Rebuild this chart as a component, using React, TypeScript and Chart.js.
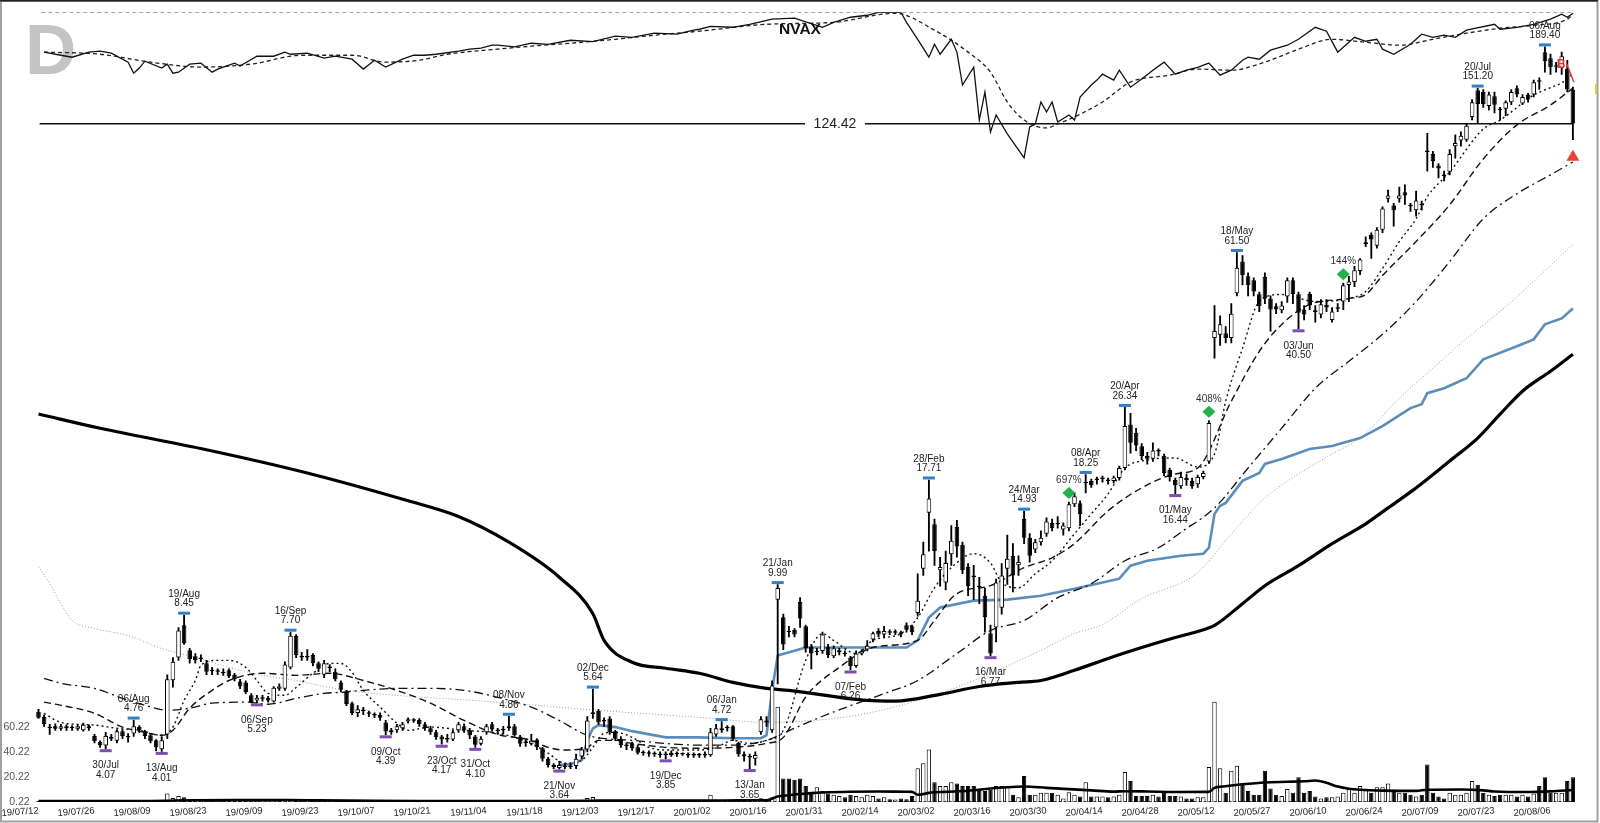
import React, { useEffect, useRef } from "react";
import { Chart, registerables } from "chart.js";
Chart.register(...registerables);

const FONT = '"Liberation Sans", Arial, Helvetica, sans-serif';

const tickLabels = ["19/07/12","19/07/26","19/08/09","19/08/23","19/09/09","19/09/23","19/10/07","19/10/21","19/11/04","19/11/18","19/12/03","19/12/17","20/01/02","20/01/16","20/01/31","20/02/14","20/03/02","20/03/16","20/03/30","20/04/14","20/04/28","20/05/12","20/05/27","20/06/10","20/06/24","20/07/09","20/07/23","20/08/06"];

const opens = [
4.98,4.85,4.56,4.60,4.54,4.60,4.55,4.54,4.50,4.60,
4.36,4.22,4.14,4.34,4.25,4.48,4.35,4.42,4.58,4.48,
4.38,4.26,4.06,4.40,5.92,6.70,8.00,6.97,6.75,6.65,
6.50,6.25,6.20,6.18,6.25,6.10,5.88,5.85,5.45,5.30,
5.35,5.38,5.27,5.65,5.65,6.35,7.55,6.75,6.70,6.80,
6.50,6.10,6.35,6.20,5.85,5.55,5.22,4.95,5.00,4.95,
4.92,4.90,4.70,4.45,4.50,4.55,4.72,4.78,4.76,4.65,
4.55,4.45,4.35,4.28,4.28,4.50,4.60,4.50,4.35,4.18,
4.45,4.65,4.52,4.50,4.60,4.60,4.35,4.20,4.18,4.28,
4.08,3.85,3.72,3.66,3.70,3.68,3.70,3.90,4.05,4.92,
5.00,4.72,4.80,4.48,4.30,4.15,4.18,4.10,3.98,3.96,
3.95,3.95,3.93,3.98,3.95,3.95,3.94,3.92,3.94,3.92,
3.93,4.40,4.50,4.55,4.60,4.20,3.95,3.90,3.85,4.45,
4.75,4.50,9.20,8.35,7.75,7.80,9.10,7.95,7.10,6.90,
6.95,7.10,6.75,6.90,6.85,6.70,6.40,6.85,7.00,7.40,
7.75,7.60,7.70,7.68,7.70,8.00,7.95,8.55,10.90,14.80,
13.90,10.80,10.10,11.80,13.70,12.40,11.00,10.50,9.90,9.40,
7.65,7.90,8.80,10.90,11.70,11.10,14.30,12.90,12.10,12.60,
13.20,14.00,13.90,13.50,13.60,15.50,15.60,17.40,17.60,17.70,
17.80,17.70,17.60,17.90,18.90,24.00,22.90,21.30,20.20,19.90,
20.80,20.20,18.70,17.70,17.10,17.90,17.60,17.30,18.00,19.60,
38.50,39.20,39.50,38.50,49.20,58.50,54.00,52.80,48.90,53.80,
47.80,45.80,44.80,48.30,52.80,48.90,45.00,49.00,44.80,43.80,
46.20,42.50,45.20,47.00,51.50,52.30,55.60,64.30,67.80,63.80,
69.60,82.50,79.50,82.50,85.50,79.60,77.50,80.00,107.5,105.4,
99.0,94.0,95.6,110.0,113.5,114.0,129.0,149.5,148.0,137.0,
144.5,134.5,135.0,140.0,151.0,139.0,146.0,146.0,157.0,184.0,
178.0,170.0,169.0,168.0,150.0];

const highs = [
5.05,4.90,4.65,4.66,4.65,4.64,4.62,4.64,4.68,4.64,
4.40,4.25,4.45,4.40,4.52,4.52,4.42,4.76,4.62,4.50,
4.40,4.28,4.35,6.10,6.70,7.90,8.45,7.05,6.85,6.80,
6.60,6.35,6.30,6.30,6.30,6.15,5.95,5.90,5.50,5.45,
5.45,5.42,5.72,5.80,6.55,7.70,7.60,6.90,7.00,6.85,
6.55,6.60,6.45,6.30,5.90,5.60,5.25,5.15,5.10,5.00,
4.95,4.95,4.75,4.55,4.65,4.70,4.82,4.80,4.80,4.70,
4.60,4.50,4.38,4.40,4.50,4.70,4.66,4.55,4.38,4.35,
4.65,4.70,4.55,4.60,4.86,4.65,4.38,4.28,4.40,4.30,
4.10,3.88,3.75,3.80,3.75,3.75,3.95,4.10,4.85,5.64,
5.05,4.82,4.85,4.50,4.35,4.20,4.22,4.15,4.02,4.02,
4.00,4.00,4.00,4.02,4.00,3.98,3.98,3.98,3.97,4.00,
4.55,4.65,4.72,4.62,4.62,4.22,4.00,3.95,4.00,4.85,
4.85,5.90,9.99,8.50,7.95,7.85,9.30,8.00,7.20,7.05,
7.70,7.20,7.15,7.05,6.95,6.75,6.95,7.00,7.35,7.70,
7.85,7.95,7.80,7.80,7.75,8.10,8.00,10.60,12.60,17.71,
14.30,11.60,12.00,13.80,14.20,12.60,11.20,11.10,10.40,9.80,
8.00,10.30,11.20,13.10,12.50,11.70,14.93,13.20,12.80,13.40,
14.40,14.30,14.50,14.00,15.70,16.50,15.80,18.25,17.80,18.00,
18.10,17.90,18.10,19.10,26.34,25.50,23.50,21.60,20.60,21.70,
21.00,20.40,18.90,17.90,18.50,18.30,17.90,18.20,18.60,24.50,
46.00,43.50,41.00,46.50,61.50,60.50,55.00,53.50,49.50,55.00,
48.50,46.50,47.00,53.50,53.50,49.50,46.00,49.50,46.00,47.50,
47.50,45.50,46.50,52.00,54.00,57.00,59.50,67.00,68.50,70.50,
79.00,86.50,80.50,88.00,89.00,80.50,86.00,81.50,118.0,107.0,
100.0,96.0,108.0,117.0,119.0,124.5,142.0,151.2,150.0,148.0,
148.0,136.0,141.0,150.0,153.0,146.0,147.0,158.0,160.0,189.4,
182.0,174.0,184.0,176.0,152.0];

const lows = [
4.80,4.60,4.40,4.50,4.50,4.50,4.50,4.50,4.48,4.50,
4.20,4.10,4.07,4.25,4.20,4.30,4.22,4.35,4.45,4.30,
4.20,4.02,4.01,4.30,5.70,6.60,7.20,6.50,6.50,6.55,
6.10,6.10,6.10,6.08,6.00,5.90,5.65,5.50,5.23,5.23,
5.28,5.25,5.25,5.60,5.60,6.30,6.70,6.60,6.60,6.40,
6.20,6.00,6.20,5.90,5.55,5.15,4.90,4.85,4.90,4.85,
4.82,4.75,4.39,4.40,4.45,4.50,4.68,4.70,4.60,4.50,
4.40,4.28,4.17,4.22,4.25,4.45,4.45,4.30,4.10,4.15,
4.40,4.48,4.40,4.42,4.50,4.35,4.12,4.12,4.15,4.05,
3.80,3.68,3.65,3.64,3.65,3.65,3.65,3.85,4.00,4.80,
4.65,4.60,4.40,4.25,4.10,4.05,4.03,3.95,3.92,3.90,
3.90,3.88,3.85,3.90,3.90,3.92,3.88,3.88,3.88,3.88,
3.90,4.35,4.45,4.48,4.25,3.90,3.80,3.65,3.72,4.40,
4.60,4.45,5.80,7.00,7.50,7.50,7.90,6.90,6.30,6.80,
6.85,6.70,6.70,6.80,6.75,6.26,6.35,6.80,6.95,7.30,
7.50,7.50,7.60,7.60,7.50,7.70,7.60,8.40,10.50,12.00,
11.10,9.90,9.70,11.10,11.60,10.60,9.40,9.20,9.00,7.70,
6.77,7.30,8.50,10.00,9.60,10.50,12.50,11.30,11.90,12.40,
13.00,13.40,13.60,13.10,13.40,15.30,13.80,16.50,17.00,17.30,
17.50,17.30,17.40,17.70,18.70,20.50,20.80,19.80,19.30,19.60,
20.20,18.10,17.60,16.44,16.90,17.20,16.90,17.00,17.80,19.40,
34.50,37.00,37.50,37.50,48.50,51.50,48.50,48.50,44.50,46.50,
40.00,44.00,44.20,46.80,46.50,40.50,42.50,45.00,42.00,43.00,
44.50,42.00,44.50,45.00,47.00,51.00,54.50,63.50,59.50,63.00,
68.50,81.00,71.00,81.00,80.00,77.00,75.00,77.50,96.0,98.0,
92.5,91.0,94.0,103.0,110.0,113.0,127.0,124.5,136.0,134.0,
132.0,127.0,130.0,138.0,144.0,138.0,140.0,144.0,150.0,165.0,
163.0,165.0,163.0,148.0,114.0];

const closes = [
4.82,4.65,4.55,4.54,4.60,4.55,4.57,4.60,4.64,4.55,
4.24,4.15,4.36,4.30,4.48,4.36,4.33,4.60,4.50,4.36,
4.24,4.10,4.26,5.95,6.55,7.77,7.25,6.65,6.60,6.68,
6.20,6.22,6.20,6.15,6.05,5.95,5.72,5.55,5.25,5.38,
5.36,5.30,5.68,5.72,6.45,7.55,6.80,6.70,6.72,6.50,
6.30,6.50,6.33,5.95,5.62,5.20,4.95,5.05,5.00,4.93,
4.88,4.82,4.47,4.50,4.60,4.65,4.78,4.74,4.65,4.55,
4.45,4.33,4.28,4.30,4.45,4.65,4.50,4.38,4.16,4.30,
4.60,4.52,4.48,4.50,4.55,4.38,4.18,4.20,4.25,4.10,
3.85,3.72,3.68,3.72,3.68,3.70,3.85,4.05,4.75,4.97,
4.70,4.75,4.45,4.30,4.15,4.13,4.08,3.98,3.97,3.96,
3.95,3.93,3.95,3.93,3.95,3.94,3.92,3.94,3.92,3.93,
4.45,4.55,4.55,4.55,4.30,3.95,3.90,3.88,3.93,4.78,
4.70,5.75,9.80,7.20,7.70,7.60,8.30,7.05,6.85,6.95,
7.60,6.80,7.05,6.97,6.82,6.40,6.85,6.95,7.15,7.65,
7.60,7.75,7.68,7.70,7.60,7.80,7.70,9.15,11.80,16.00,
12.00,11.00,11.25,12.70,12.30,10.80,9.90,10.40,9.85,8.35,
6.85,10.10,10.50,11.50,10.50,11.30,12.90,11.70,12.60,12.90,
14.10,13.60,14.00,13.80,15.50,16.20,14.70,17.50,17.20,17.75,
17.90,17.60,17.95,18.90,23.80,21.70,21.40,20.20,19.90,20.80,
20.70,18.40,18.00,17.20,18.00,17.70,17.10,18.00,18.40,24.20,
40.00,41.50,38.50,44.00,56.60,54.40,51.50,49.70,45.80,47.80,
45.00,45.00,46.00,52.80,49.00,44.20,43.80,46.00,44.40,46.30,
45.50,44.50,45.50,51.40,52.50,55.80,59.20,65.00,66.00,69.60,
78.20,84.00,77.50,84.00,84.00,79.20,81.70,79.60,106.5,101.4,
97.4,93.5,105.4,112.0,116.5,123.0,140.0,138.6,138.5,146.0,
138.0,134.0,140.0,148.0,146.0,144.0,142.0,156.0,156.5,175.0,
169.6,171.0,180.0,150.0,124.5];

const volumes = [
1.2,1.0,0.9,0.8,0.9,0.8,0.7,0.8,0.9,0.8,
1.0,1.1,1.2,1.0,0.9,1.0,0.9,1.3,1.0,0.9,
1.0,1.1,1.2,7.0,3.5,5.0,4.0,2.2,1.6,1.3,
1.4,1.1,1.0,1.0,1.1,1.0,1.2,1.1,1.3,1.0,
0.9,0.9,1.2,1.0,1.8,2.4,1.9,1.2,1.1,1.0,
1.0,1.1,0.9,1.0,1.1,1.2,1.3,1.0,0.9,0.8,
0.9,1.0,1.4,1.0,1.1,1.2,1.0,0.9,0.9,1.0,
1.0,1.1,1.0,0.9,1.0,1.2,1.0,1.0,1.1,1.0,
1.2,1.1,0.9,0.9,1.2,1.1,1.0,0.9,1.0,1.1,
1.3,1.2,1.0,1.1,0.9,0.9,1.2,1.6,3.5,4.2,
2.0,1.5,1.4,1.2,1.1,1.0,1.0,1.0,0.9,0.8,
0.9,0.8,0.9,0.8,0.7,0.6,0.7,0.8,0.7,0.8,
6.0,2.0,1.6,1.2,1.3,1.5,1.2,1.4,1.2,3.2,
2.6,3.8,76,19,19,18,19,13,8,12,
9,7,6,5,4,6,5,4,6,5,
3,4,2.5,2.2,3,2.5,5,27,31,42,
16,13,13,16,15,13,13,13,10,9,
10,13,13,13,6,4,21,6,6,7.6,
7.6,7.6,6,3,8,6,4.5,16,4.5,4.5,
4.5,4,4.5,6,24,17,5,5,5,6,
4.5,7.6,5,5,4.5,3,3,4,4,28,
80,27,7.6,25,29,14,9,6,6,25,
11,6,5,10.6,7.6,20,7.6,9,4.5,3,
4,4,4.5,7.6,10.6,7.6,13,10.6,7.6,12,
12,15,10,7.6,7.6,6,4.5,6,30,7.6,
4.5,3,7.6,6,6,7.6,17,14,7.6,6,
5,6,6,6,4.5,6,4.5,7,13,20,
7.6,7.6,7.6,17,20];

// moving averages sampled at bar index: [barIndex, value]
const ma10 = [[1,4.94],[4,4.70],[10,4.63],[14,4.55],[18,4.50],[22,4.38],[24,4.58],[26,5.30],[28,5.91],[29,6.42],[32,6.60],[34,6.60],[37,6.35],[39,5.91],[41,5.51],[44,5.45],[46,5.69],[49,6.15],[52,6.49],[54,6.49],[56,6.18],[58,5.60],[61,5.11],[64,4.68],[66,4.50],[70,4.58],[76,4.50],[82,4.43],[88,4.19],[91,3.97],[94,3.76],[97,3.82],[99,4.10],[101,4.43],[103,4.45],[106,4.33],[109,4.10],[112,4.04],[118,4.04],[121,4.10],[124,4.26],[127,4.19],[130,4.26],[133,4.50],[137,6.60],[140,7.64],[142,7.36],[146,6.85],[149,7.36],[154,7.64],[157,8.34],[160,9.82],[163,10.96],[167,11.83],[170,11.25],[172,10.10],[175,9.82],[178,10.60],[181,11.38],[185,13.19],[188,14.71],[191,16.41],[194,18.91],[197,19.65],[203,19.97],[207,19.01],[210,20.41],[212,27.25],[215,36.39],[218,47.03],[222,48.87],[228,47.03],[234,47.81],[237,49.67],[240,56.32],[243,65.27],[246,73.97],[248,83.40],[252,95.58],[258,120.9],[261,126.9],[267,145.5],[273,158.8],[274,164.0]];
const ma21 = [[1,5.25],[4,5.16],[10,4.94],[15,4.58],[19,4.45],[22,4.38],[24,4.50],[27,5.08],[31,5.60],[34,5.91],[40,6.15],[46,6.08],[52,6.15],[58,5.91],[64,5.60],[70,5.22],[76,4.75],[82,4.40],[88,4.26],[91,4.10],[94,4.04],[98,4.10],[100,4.26],[103,4.26],[106,4.19],[112,4.10],[118,4.08],[124,4.10],[130,4.19],[133,4.33],[137,5.40],[143,6.35],[149,7.08],[157,7.36],[160,8.21],[164,9.51],[170,9.93],[176,10.96],[181,11.57],[185,12.50],[191,14.96],[197,16.96],[203,18.30],[207,18.91],[213,27.25],[218,35.80],[222,41.49],[227,46.27],[234,47.81],[237,48.87],[240,54.2],[246,65.3],[252,79.84],[258,102.6],[264,123.6],[270,137.8],[274,151.2]];
const ma50 = [[1,5.98],[4,5.82],[10,5.66],[15,5.36],[19,5.16],[23,5.02],[27,5.08],[31,5.22],[37,5.25],[41,5.19],[46,5.36],[51,5.51],[54,5.54],[58,5.60],[64,5.66],[70,5.66],[76,5.60],[82,5.39],[88,5.11],[93,4.75],[98,4.38],[106,4.26],[118,4.15],[124,4.15],[130,4.26],[133,4.43],[139,4.80],[145,5.15],[151,5.50],[157,5.91],[164,6.85],[170,7.77],[176,8.21],[182,9.30],[188,10.04],[194,11.38],[200,12.22],[204,13.30],[210,15.20],[216,18.91],[222,23.52],[228,29.26],[234,33.90],[240,39.29],[246,47.03],[252,58.52],[258,73.97],[264,84.80],[270,94.05],[274,100.9]];
const maGray = [[0,11.02],[2,10.04],[4,9.00],[6,8.21],[10,7.86],[16,7.56],[22,7.04],[28,6.71],[34,6.35],[40,6.08],[46,5.91],[52,5.69],[58,5.54],[64,5.45],[82,5.25],[100,5.02],[118,4.83],[130,4.70],[145,4.86],[154,5.16],[161,5.51],[167,5.91],[179,6.97],[185,7.64],[190,8.03],[197,9.25],[207,10.66],[213,13.19],[219,16.05],[225,18.30],[231,20.41],[236,22.27],[243,27.71],[249,32.63],[255,38.43],[261,44.54],[265,49.67],[274,64.2]];
const maBlue = [[93,3.72],[95,3.74],[97,3.82],[98,4.26],[99,4.55],[100,4.63],[103,4.58],[106,4.48],[112,4.33],[118,4.33],[124,4.31],[129,4.31],[130,4.38],[131,5.60],[132,6.78],[137,7.08],[155,7.08],[157,7.36],[159,8.34],[161,8.81],[167,9.15],[173,9.20],[179,9.40],[185,9.77],[190,10.10],[193,10.32],[195,11.08],[198,11.38],[204,11.70],[208,11.83],[209,12.22],[210,14.71],[211,15.37],[212,15.62],[215,17.62],[218,18.40],[219,19.33],[222,19.86],[227,20.97],[231,21.32],[236,22.27],[240,23.78],[245,26.24],[247,26.81],[248,28.48],[251,29.26],[255,30.90],[258,34.28],[264,36.80],[267,38.23],[269,41.49],[272,42.87],[274,45.27]];
const ma200 = [[0,25.4],[11,23.5],[30,20.9],[48,18.4],[66,15.8],[75,14.5],[84,12.6],[93,10.4],[99,8.52],[101,7.36],[106,6.53],[112,6.32],[118,6.15],[124,5.85],[130,5.66],[134,5.60],[148,5.30],[153,5.28],[161,5.48],[168,5.72],[175,5.85],[179,5.91],[185,6.25],[191,6.67],[197,7.08],[203,7.48],[207,7.73],[210,7.99],[215,9.00],[219,9.93],[225,11.08],[231,12.50],[237,13.93],[241,15.20],[246,16.96],[252,19.65],[257,22.27],[261,25.39],[265,28.79],[270,32.11],[274,35.24]];

// relative strength line and its average (top panel)
const rsLine = [[1,75.8],[4,73.9],[6,72.7],[9,75.8],[11,76.4],[13,75.2],[16,69.7],[17,63.0],[18,66.1],[19,70.3],[22,66.1],[23,68.5],[24,63.0],[25,63.6],[27,68.5],[29,69.1],[31,63.6],[32,65.5],[35,69.1],[36,67.3],[39,73.3],[42,73.3],[44,75.8],[45,74.5],[48,75.2],[51,72.1],[53,73.3],[56,71.5],[58,65.5],[60,70.9],[62,66.7],[65,71.5],[67,73.9],[69,73.9],[71,74.5],[75,76.4],[77,77.6],[79,78.2],[81,80.0],[82,80.0],[85,79.0],[88,81.2],[91,80.5],[95,83.0],[99,82.2],[103,85.5],[106,84.8],[110,87.3],[114,86.7],[117,89.1],[118,89.7],[120,91.5],[124,90.9],[127,92.7],[131,95.8],[135,96.4],[140,90.9],[142,93.9],[145,97.0],[148,98.2],[150,100],[154,100],[155,93.9],[157,83.6],[159,72.7],[160,80.6],[161,74.5],[163,83.6],[164,75.8],[165,55.8],[167,66.7],[168,34.5],[169,51.5],[170,27.3],[171,37.6],[173,26.1],[174,21.2],[176,11.5],[177,30.3],[178,32.1],[179,45.5],[180,39.4],[181,45.5],[182,33.3],[184,37.6],[185,34.5],[186,48.5],[188,55.8],[189,58.8],[190,62.4],[192,58.8],[193,64.8],[195,54.5],[197,59.4],[199,64.8],[201,69.7],[203,62.4],[205,64.8],[207,66.5],[209,69.1],[211,61.8],[213,64.8],[215,70.9],[216,72.7],[218,71.5],[220,77.0],[223,80.0],[225,83.6],[228,90.9],[230,88.5],[232,75.8],[235,84.8],[237,82.4],[239,83.6],[240,77.6],[242,74.5],[245,80.6],[247,86.7],[249,84.8],[251,86.1],[253,84.8],[255,89.1],[260,92.7],[261,89.7],[264,90.9],[267,92.7],[270,95.8],[272,98.8],[273,97.0],[274,99.4]];
const rsAvg = [[1,75.8],[11,74.5],[20,69.7],[29,66.7],[38,68.5],[47,73.9],[56,73.9],[62,69.7],[68,70.9],[73,74.5],[82,77.6],[88,79.4],[95,81.2],[103,83.6],[110,86.1],[118,88.5],[130,92.7],[142,93.9],[153,99.4],[160,89.1],[166,75.8],[170,63.6],[173,45.5],[176,34.5],[180,29.7],[182,32.1],[185,36.4],[190,45.5],[195,57.6],[202,61.8],[207,65.5],[213,64.8],[219,69.7],[225,77.6],[231,83.6],[237,81.8],[243,80.0],[249,83.6],[255,87.3],[261,90.3],[267,92.1],[273,95.8],[274,98.8]];

const volAvg = [[0,0.9],[10,0.9],[20,1.0],[23,1.2],[26,1.6],[35,1.8],[45,1.8],[50,1.5],[60,1.1],[70,1.0],[80,0.9],[90,1.0],[98,1.1],[100,1.3],[110,1.3],[120,1.3],[125,1.5],[130,1.6],[132,4.6],[134,5.6],[136,6.6],[138,7.3],[140,7.8],[145,8.4],[150,8.6],[155,8.4],[156,8.3],[157,6.0],[158,6.5],[159,7.5],[162,8.3],[166,9.2],[170,11.0],[173,12.0],[176,12.5],[180,11.5],[184,10.5],[188,9.5],[192,8.5],[194,8.8],[198,8.6],[203,8.2],[209,8.3],[210,11.5],[211,12.4],[213,13.3],[215,14.3],[219,15.8],[223,16.3],[226,16.7],[228,17.3],[230,15.5],[232,12.5],[234,10.8],[236,10.0],[240,9.3],[246,9.1],[248,10.0],[254,10.2],[258,9.5],[260,8.6],[266,8.2],[270,8.7],[274,9.8]];

const volTicks = [0.22, 20.22, 40.22, 60.22];

const highMarkIdx = [17, 26, 45, 84, 99, 122, 132, 159, 176, 187, 194, 214, 257, 269];
const highMarkDate = ["06/Aug","19/Aug","16/Sep","08/Nov","02/Dec","06/Jan","21/Jan","28/Feb","24/Mar","08/Apr","20/Apr","18/May","20/Jul","06/Aug"];
const lowMarkIdx = [12, 22, 39, 62, 72, 78, 93, 112, 127, 145, 170, 203, 225];
const lowMarkDate = ["30/Jul","13/Aug","06/Sep","09/Oct","23/Oct","31/Oct","21/Nov","19/Dec","13/Jan","07/Feb","16/Mar","01/May","03/Jun"];
const signalIdx = [184, 209, 233];
const signalText = ["697%", "408%", "144%"];
const sellSignalIdx = 274;
const priceLevel = 124.42;
const rsHighLevel = 100;
const volBase = 0.22;
const ticker = "NVAX";

const lastIdx = opens.length - 1;
const pts = (arr: number[][]) => arr.map(([x, y]) => ({ x, y }));

const annotations = {
  id: "annotations",
  beforeDatasetsDraw(chart: any) {
    const ctx = chart.ctx;
    ctx.save();
    ctx.fillStyle = "#c4c4c4";
    ctx.font = `bold 71px ${FONT}`;
    ctx.textAlign = "left";
    ctx.textBaseline = "alphabetic";
    ctx.fillText("D", 25, 74);
    ctx.restore();
  },
  afterDatasetsDraw(chart: any) {
    const ctx = chart.ctx;
    const xs = chart.scales.x;
    const yp = chart.scales.yPrice;
    ctx.save();
    ctx.textAlign = "center";
    ctx.textBaseline = "middle";
    ctx.font = `10px ${FONT}`;
    highMarkIdx.forEach((bi, k) => {
      const x = xs.getPixelForValue(bi);
      const y = yp.getPixelForValue(highs[bi]) - 2;
      ctx.fillStyle = "#2f80c4";
      ctx.fillRect(x - 6, y - 1.5, 12, 3);
      ctx.fillStyle = "#222";
      ctx.fillText(highMarkDate[k], x, y - 19);
      ctx.fillText(highs[bi].toFixed(2), x, y - 9.5);
    });
    lowMarkIdx.forEach((bi, k) => {
      const x = xs.getPixelForValue(bi);
      const y = yp.getPixelForValue(lows[bi]) + 2;
      ctx.fillStyle = "#7b4fb0";
      ctx.fillRect(x - 6, y - 1.5, 12, 3);
      ctx.fillStyle = "#222";
      ctx.fillText(lowMarkDate[k], x, y + 15);
      ctx.fillText(lows[bi].toFixed(2), x, y + 24.5);
    });
    signalIdx.forEach((bi, k) => {
      const x = xs.getPixelForValue(bi);
      const y = yp.getPixelForValue(highs[bi]) - 9;
      ctx.fillStyle = "#22b14c";
      ctx.beginPath();
      ctx.moveTo(x, y - 6);
      ctx.lineTo(x + 6.5, y);
      ctx.lineTo(x, y + 6);
      ctx.lineTo(x - 6.5, y);
      ctx.closePath();
      ctx.fill();
      ctx.fillStyle = "#333";
      ctx.fillText(signalText[k], x, y - 12.5);
    });
    {
      const x = xs.getPixelForValue(sellSignalIdx);
      const y = yp.getPixelForValue(lows[sellSignalIdx]);
      ctx.fillStyle = "#e8443a";
      ctx.beginPath();
      ctx.moveTo(x, y + 10);
      ctx.lineTo(x + 6.5, y + 21);
      ctx.lineTo(x - 6.5, y + 21);
      ctx.closePath();
      ctx.fill();
    }
    {
      ctx.strokeStyle = "#e03a3a";
      ctx.fillStyle = "#e03a3a";
      ctx.lineWidth = 1.4;
      ctx.font = `bold 12px ${FONT}`;
      ctx.fillText("B", xs.getPixelForValue(271.9), yp.getPixelForValue(172));
      ctx.beginPath();
      ctx.moveTo(xs.getPixelForValue(272.8), yp.getPixelForValue(174));
      ctx.lineTo(xs.getPixelForValue(274.2), yp.getPixelForValue(156));
      ctx.stroke();
    }
    {
      const y = yp.getPixelForValue(priceLevel);
      ctx.fillStyle = "#fff";
      ctx.fillRect(805, y - 7, 60, 14);
      ctx.fillStyle = "#222";
      ctx.font = `14px ${FONT}`;
      ctx.fillText(priceLevel.toFixed(2), 835, y + 0.5);
    }
    ctx.fillStyle = "#111";
    ctx.font = `bold 15.5px ${FONT}`;
    ctx.textBaseline = "alphabetic";
    ctx.fillText(ticker, 800, 33.5);
    ctx.restore();
  },
  afterDraw(chart: any) {
    const ctx = chart.ctx;
    ctx.save();
    ctx.strokeStyle = "#a0a0a0";
    ctx.lineWidth = 2;
    ctx.strokeRect(1, 1, 1596.5, 820.5);
    ctx.strokeStyle = "#222";
    ctx.lineWidth = 1.5;
    ctx.beginPath();
    ctx.moveTo(0, 0.75);
    ctx.lineTo(1598, 0.75);
    ctx.stroke();
    ctx.fillStyle = "#e8c640";
    ctx.fillRect(1595, 84, 2, 10);
    ctx.restore();
  },
};

export default function App() {
  const ref = useRef<HTMLCanvasElement>(null);
  useEffect(() => {
    const idx = opens.map((_, i) => i);
    const up = (i: number) => closes[i] >= opens[i];
    const lineBase = { type: "line" as const, pointRadius: 0, fill: false, xAxisID: "x" };
    const chart = new Chart(ref.current as HTMLCanvasElement, {
      type: "bar",
      data: {
        datasets: [
          {
            type: "bar", label: "volume", xAxisID: "x", yAxisID: "yVol",
            data: idx.map((i) => ({ x: i, y: volumes[i] })) as any,
            backgroundColor: idx.map((i) => (up(i) ? "#ffffff" : "#000000")),
            borderColor: "#000", borderWidth: 1, borderSkipped: "bottom",
            barPercentage: 0.78, categoryPercentage: 1, grouped: false, order: 20,
          },
          { ...lineBase, label: "volBase", yAxisID: "yVol", data: [{ x: 0, y: volBase }, { x: lastIdx, y: volBase }], borderColor: "#000", borderWidth: 1.4, borderDash: [3, 2], order: 19 },
          { ...lineBase, label: "volAvg", yAxisID: "yVol", data: pts(volAvg), borderColor: "#000", borderWidth: 2.6, tension: 0.3, cubicInterpolationMode: "monotone", order: 18 },
          { ...lineBase, label: "ma200", yAxisID: "yPrice", data: pts(ma200), borderColor: "#000", borderWidth: 3.2, cubicInterpolationMode: "monotone", order: 12 },
          { ...lineBase, label: "maGray", yAxisID: "yPrice", data: pts(maGray), borderColor: "#9a9a9a", borderWidth: 1, borderDash: [1, 2], cubicInterpolationMode: "monotone", order: 12 },
          { ...lineBase, label: "maBlue", yAxisID: "yPrice", data: pts(maBlue), borderColor: "#5b8dbb", borderWidth: 2.6, tension: 0, order: 11 },
          { ...lineBase, label: "ma50", yAxisID: "yPrice", data: pts(ma50), borderColor: "#111", borderWidth: 1.3, borderDash: [9, 4, 2, 4], cubicInterpolationMode: "monotone", order: 10 },
          { ...lineBase, label: "ma21", yAxisID: "yPrice", data: pts(ma21), borderColor: "#111", borderWidth: 1.4, borderDash: [7, 4], cubicInterpolationMode: "monotone", order: 9 },
          { ...lineBase, label: "ma10", yAxisID: "yPrice", data: pts(ma10), borderColor: "#111", borderWidth: 1.4, borderDash: [2, 3], cubicInterpolationMode: "monotone", order: 8 },
          { ...lineBase, label: "level", yAxisID: "yPrice", data: [{ x: 0.2, y: priceLevel }, { x: lastIdx, y: priceLevel }], borderColor: "#111", borderWidth: 1.5, order: 7 },
          {
            type: "bar", label: "wick", xAxisID: "x", yAxisID: "yPrice",
            data: idx.map((i) => ({ x: i, y: [lows[i], highs[i]] })) as any,
            backgroundColor: "#000", barThickness: 1.2, grouped: false, order: 3,
          },
          {
            type: "bar", label: "body", xAxisID: "x", yAxisID: "yPrice",
            data: idx.map((i) => ({ x: i, y: [opens[i], closes[i]] })) as any,
            backgroundColor: idx.map((i) => (up(i) ? "#ffffff" : "#000000")),
            borderColor: "#000", borderWidth: 1, borderSkipped: false,
            barPercentage: 0.82, categoryPercentage: 1, grouped: false, minBarLength: 1.5, order: 2,
          },
          { ...lineBase, label: "rsTop", yAxisID: "yRS", data: [{ x: 0.5, y: rsHighLevel }, { x: lastIdx, y: rsHighLevel }], borderColor: "#8a8a8a", borderWidth: 1.2, borderDash: [4, 3], order: 6 },
          { ...lineBase, label: "rsAvg", yAxisID: "yRS", data: pts(rsAvg), borderColor: "#222", borderWidth: 1.3, borderDash: [4, 3], cubicInterpolationMode: "monotone", order: 5 },
          { ...lineBase, label: "rs", yAxisID: "yRS", data: pts(rsLine), borderColor: "#111", borderWidth: 1.3, tension: 0, order: 4 },
        ] as any,
      },
      options: {
        responsive: false,
        animation: false,
        events: [],
        layout: { padding: { top: 10, right: 24.3, bottom: 0, left: 0 } },
        plugins: { legend: { display: false }, tooltip: { enabled: false } },
        scales: {
          x: {
            type: "linear", min: -0.5, max: 274.5, offset: false, bounds: "data",
            grid: { display: false, drawTicks: false }, border: { display: false },
            afterBuildTicks: (s: any) => { s.ticks = tickLabels.map((_, k) => ({ value: k * 10 })); },
            afterFit: (s: any) => { s.height = 21; s.paddingLeft = 0; s.paddingRight = 0; },
            ticks: {
              autoSkip: false, minRotation: 4, maxRotation: 4, padding: 3, color: "#222",
              font: { family: FONT, size: 9.5 },
              callback: (v: any) => tickLabels[Math.round(Number(v) / 10)] ?? "",
            },
          },
          yPrice: { type: "logarithmic", display: false, min: 3.04, max: 228.9, bounds: "data" },
          yRS: { type: "linear", display: false, min: -380, max: 100, bounds: "data" },
          yVol: {
            type: "linear", position: "left", min: 0.22, max: 628.8, bounds: "data",
            grid: { display: false, drawTicks: false }, border: { display: false },
            afterBuildTicks: (s: any) => { s.ticks = volTicks.map((v) => ({ value: v })); },
            afterFit: (s: any) => { s.width = 35.7; },
            ticks: { padding: 6, color: "#555", font: { family: FONT, size: 10.5 }, callback: (v: any) => Number(v).toFixed(2) },
          },
        } as any,
      },
      plugins: [annotations as any],
    });
    return () => chart.destroy();
  }, []);
  return (
    <div style={{ position: "fixed", left: 0, top: 0, width: 1600, height: 823, background: "#fff" }}>
      <canvas ref={ref} width={1600} height={823} style={{ width: 1600, height: 823, display: "block" }} />
    </div>
  );
}
